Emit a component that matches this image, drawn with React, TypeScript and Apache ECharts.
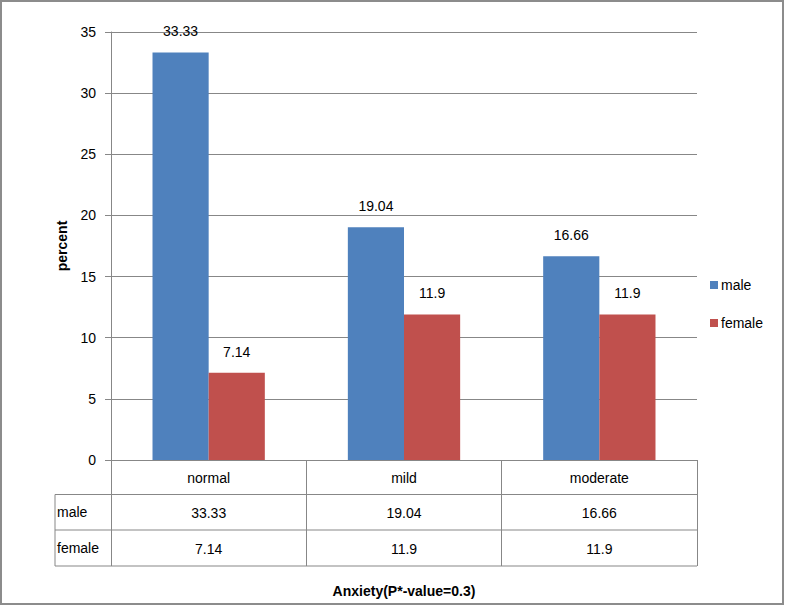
import React, { useEffect, useRef } from "react";
import * as echarts from "echarts";

const categories = ["normal", "mild", "moderate"];
const maleValues = [33.33, 19.04, 16.66];
const femaleValues = [7.14, 11.9, 11.9];
const seriesNames = ["male", "female"];
const xTitle = "Anxiety(P*-value=0.3)";
const yTitle = "percent";

const FONT = "'Liberation Sans', Arial, sans-serif";
const GRAY = "#878787";

export default function App() {
  const ref = useRef<HTMLDivElement>(null);
  useEffect(() => {
    if (!ref.current) return;
    const chart = echarts.init(ref.current, null, { renderer: "svg" });
    const W = 786;
    const H = 606;
    const gl = 111, gt = 32, gr = 697, gb = 460;
    const tableLeft = 55;
    const rowLines = [494.5, 530, 566];
    const rowCenters = [512, 548];
    chart.setOption({
      animation: false,
      backgroundColor: "#ffffff",
      textStyle: { fontFamily: FONT },
      grid: { left: gl, top: gt, right: W - gr, bottom: H - gb, containLabel: false },
      legend: {
        orient: "vertical",
        left: 705,
        top: 273,
        itemWidth: 8,
        itemHeight: 8,
        itemGap: 24,
        icon: "rect",
        textStyle: { fontSize: 14, color: "#000", fontFamily: FONT, padding: [0, 0, 0, -2] },
        data: seriesNames,
      },
      xAxis: {
        type: "category",
        data: categories,
        axisLine: { show: true, lineStyle: { color: GRAY, width: 1 } },
        axisTick: { show: true, alignWithLabel: false, length: 106, lineStyle: { color: GRAY, width: 1 } },
        axisLabel: {
          margin: 0,
          fontSize: 14,
          color: "#000",
          lineHeight: 35.5,
          fontFamily: FONT,
          formatter: (v: string, i: number) => `${v}\n${maleValues[i]}\n${femaleValues[i]}`,
        },
        name: xTitle,
        nameLocation: "middle",
        nameGap: 124,
        nameTextStyle: { fontSize: 14, fontWeight: "bold", color: "#000", fontFamily: FONT },
      },
      yAxis: {
        type: "value",
        min: 0,
        max: 35,
        interval: 5,
        axisLine: { show: true, lineStyle: { color: GRAY, width: 1 } },
        axisTick: { show: true, length: 6, lineStyle: { color: GRAY, width: 1 } },
        axisLabel: { fontSize: 14, color: "#000", margin: 15, fontFamily: FONT },
        splitLine: { show: true, lineStyle: { color: GRAY, width: 1 } },
        name: yTitle,
        nameLocation: "middle",
        nameGap: 42,
        nameRotate: 90,
        nameTextStyle: { fontSize: 14, fontWeight: "bold", color: "#000", fontFamily: FONT },
      },
      series: [
        {
          name: seriesNames[0],
          type: "bar",
          data: maleValues,
          barGap: "0%",
          barCategoryGap: "42.5%",
          itemStyle: { color: "#4F81BD" },
          label: { show: true, position: "top", distance: 14, fontSize: 14, color: "#000", fontFamily: FONT },
        },
        {
          name: seriesNames[1],
          type: "bar",
          data: femaleValues,
          barGap: "0%",
          barCategoryGap: "42.5%",
          itemStyle: { color: "#C0504D" },
          label: { show: true, position: "top", distance: 14, fontSize: 14, color: "#000", fontFamily: FONT },
        },
      ],
      graphic: [
        {
          type: "rect",
          shape: { x: 1, y: 1, width: 782, height: 603 },
          style: { fill: "none", stroke: "#8c8c8c", lineWidth: 2 },
          silent: true,
        },
        ...rowLines.map((y) => ({
          type: "line",
          shape: { x1: tableLeft, y1: y, x2: gr, y2: y },
          style: { stroke: GRAY, lineWidth: 1 },
          silent: true,
        })),
        {
          type: "line",
          shape: { x1: tableLeft, y1: rowLines[0], x2: tableLeft, y2: rowLines[2] },
          style: { stroke: GRAY, lineWidth: 1 },
          silent: true,
        },
        ...seriesNames.map((n, i) => ({
          type: "text",
          x: tableLeft + 2,
          y: rowCenters[i],
          style: { text: n, fontSize: 14, fill: "#000", fontFamily: FONT, textVerticalAlign: "middle", verticalAlign: "middle" },
          silent: true,
        })),
      ],
    });
    return () => chart.dispose();
  }, []);
  return <div ref={ref} style={{ position: "fixed", left: 0, top: 0, width: 786, height: 606 }} />;
}
